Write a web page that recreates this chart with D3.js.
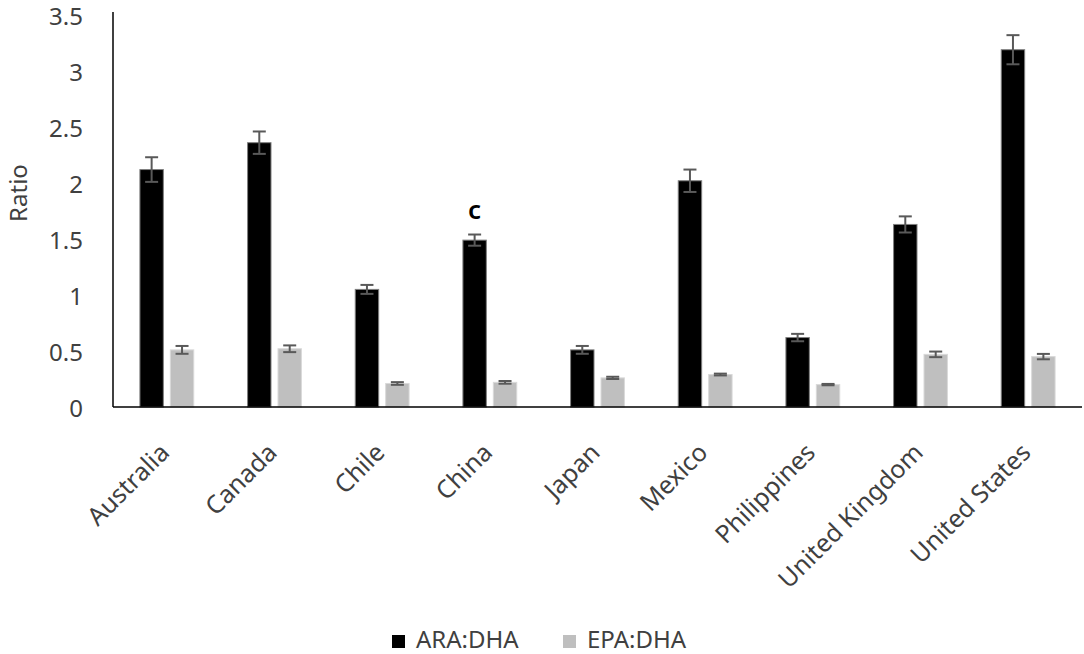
<!DOCTYPE html>
<html>
<head>
<meta charset="utf-8">
<script src="https://cdn.jsdelivr.net/npm/d3@7"></script>
<style>
  html, body { margin: 0; padding: 0; background: #fff; }
  svg { display: block; }
  text { font-family: "Noto Sans", "Open Sans", sans-serif; }
</style>
</head>
<body>
<svg id="chart" width="1084" height="654"></svg>
<script>
const categories = ["Australia", "Canada", "Chile", "China", "Japan", "Mexico", "Philippines", "United Kingdom", "United States"];
const seriesNames = ["ARA:DHA", "EPA:DHA"];
const araValues = [2.12, 2.36, 1.05, 1.49, 0.51, 2.02, 0.62, 1.63, 3.19];
const araErrors = [0.11, 0.10, 0.04, 0.05, 0.035, 0.10, 0.033, 0.072, 0.13];
const epaValues = [0.51, 0.52, 0.21, 0.22, 0.26, 0.29, 0.20, 0.47, 0.45];
const epaErrors = [0.035, 0.03, 0.012, 0.012, 0.01, 0.008, 0.006, 0.025, 0.024];
const yTicks = [0, 0.5, 1, 1.5, 2, 2.5, 3, 3.5];
const annotations = [{ category: "China", series: "ARA:DHA", text: "c" }];

const colors = { "ARA:DHA": "#000000", "EPA:DHA": "#bfbfbf" };
const strokes = { "ARA:DHA": "#7f7f7f", "EPA:DHA": "#d9d9d9" };

const svg = d3.select("#chart");
const mLeft = 113, mRight = 1082, mTop = 15, mBottom = 407;
const FONT = '"Noto Sans", "Open Sans", sans-serif';

const x0 = d3.scaleBand().domain(categories).range([mLeft, mRight]).paddingInner(0).paddingOuter(0);
const bw = x0.bandwidth();
const x1 = d3.scaleBand().domain(seriesNames).range([bw * 0.25, bw * 0.75]).paddingInner(0.23).paddingOuter(0);
const y = d3.scaleLinear().domain([0, 3.5]).range([mBottom, mTop]);

const data = categories.map((c, i) => ({
  category: c,
  values: [
    { series: "ARA:DHA", value: araValues[i], err: araErrors[i] },
    { series: "EPA:DHA", value: epaValues[i], err: epaErrors[i] }
  ]
}));

// y axis labels (no tick marks)
const yAxis = d3.axisLeft(y).tickValues(yTicks).tickSize(0).tickPadding(30)
  .tickFormat(d => String(d));
const gy = svg.append("g").attr("transform", `translate(${mLeft},0)`).call(yAxis);
gy.attr("font-size", null).attr("font-family", null);
gy.select(".domain").attr("stroke", "#000").attr("stroke-width", 1.5).attr("d", `M0,${mTop - 3}V${mBottom}`);
gy.selectAll("text").style("font-size", "24px").attr("fill", "#404040")
  .style("font-family", FONT).attr("dy", "0.38em");

// bars
const groups = svg.append("g").selectAll("g").data(data).join("g")
  .attr("transform", d => `translate(${x0(d.category)},0)`);

groups.selectAll("rect").data(d => d.values).join("rect")
  .attr("x", d => x1(d.series))
  .attr("width", x1.bandwidth())
  .attr("y", d => y(d.value))
  .attr("height", d => y(0) - y(d.value))
  .attr("fill", d => colors[d.series])
  .attr("stroke", d => strokes[d.series])
  .attr("stroke-width", 1);

// error bars
const capW = 13;
const eb = groups.selectAll("g.err").data(d => d.values).join("g").attr("class", "err")
  .attr("stroke", "#595959").attr("stroke-width", 2);
eb.append("line")
  .attr("x1", d => x1(d.series) + x1.bandwidth() / 2)
  .attr("x2", d => x1(d.series) + x1.bandwidth() / 2)
  .attr("y1", d => y(d.value + d.err))
  .attr("y2", d => y(d.value - d.err));
eb.append("line")
  .attr("x1", d => x1(d.series) + x1.bandwidth() / 2 - capW / 2)
  .attr("x2", d => x1(d.series) + x1.bandwidth() / 2 + capW / 2)
  .attr("y1", d => y(d.value + d.err))
  .attr("y2", d => y(d.value + d.err));
eb.append("line")
  .attr("x1", d => x1(d.series) + x1.bandwidth() / 2 - capW / 2)
  .attr("x2", d => x1(d.series) + x1.bandwidth() / 2 + capW / 2)
  .attr("y1", d => y(d.value - d.err))
  .attr("y2", d => y(d.value - d.err));

// x axis
const xAxis = d3.axisBottom(x0).tickSize(0).tickPadding(0);
const gx = svg.append("g").attr("transform", `translate(0,${mBottom})`).call(xAxis);
gx.attr("font-size", null).attr("font-family", null);
gx.select(".domain").attr("stroke", "#000").attr("stroke-width", 1.5).attr("d", `M${mLeft},0H${mRight}`);
gx.selectAll(".tick text")
  .style("font-size", "25px").attr("fill", "#404040")
  .style("font-family", FONT)
  .attr("text-anchor", "end")
  .attr("dy", 0)
  .attr("transform", "translate(4,47) rotate(-45)");

// annotations
annotations.forEach(a => {
  const i = categories.indexOf(a.category);
  const cx = x0(a.category) + x1(a.series) + x1.bandwidth() / 2;
  const v = a.series === "ARA:DHA" ? araValues[i] + araErrors[i] : epaValues[i] + epaErrors[i];
  svg.append("text").attr("x", cx).attr("y", y(v) - 16)
    .attr("text-anchor", "middle").style("font-size", "26px").attr("font-weight", 600)
    .attr("fill", "#000").text(a.text);
});

// y label
svg.append("text").attr("transform", "translate(27,193) rotate(-90)")
  .attr("text-anchor", "middle").style("font-size", "24px").attr("fill", "#404040").text("Ratio");

// legend
const legend = svg.append("g");
const legendX = [392, 563];
seriesNames.forEach((s, i) => {
  legend.append("rect").attr("x", legendX[i]).attr("y", 635).attr("width", 13).attr("height", 13)
    .attr("fill", colors[s]);
  legend.append("text").attr("x", legendX[i] + 24).attr("y", 648)
    .style("font-size", "24px").attr("fill", "#404040").text(s);
});
</script>
</body>
</html>
